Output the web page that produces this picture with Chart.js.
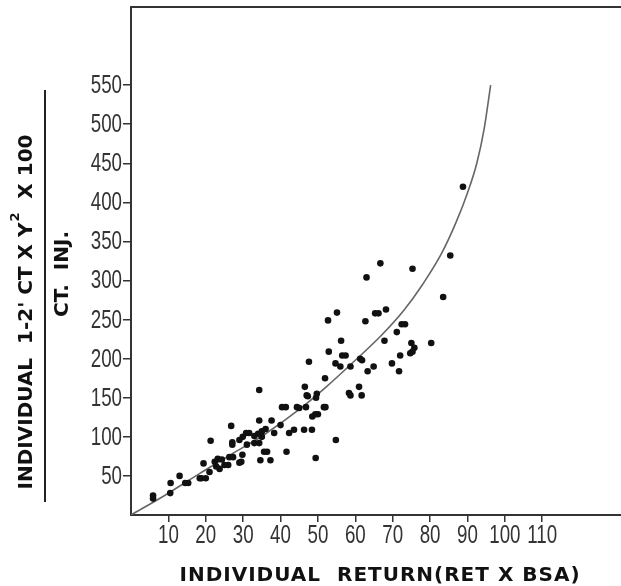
<!DOCTYPE html>
<html>
<head>
<meta charset="utf-8">
<script src="https://cdn.jsdelivr.net/npm/chart.js@4.4.0/dist/chart.umd.min.js"></script>
<style>
  body { margin: 0; background: #fff; }
  canvas { display: block; }
</style>
</head>
<body>
<canvas id="myChart" width="621" height="586"></canvas>
<script>
// individual points
const scatterX = [5.9, 5.9, 10.5, 10.6, 13, 14.5, 15.3, 18.4, 18.8, 19.4, 20, 21, 21.3, 22.4, 22.8, 23.2,
  23.7, 24.3, 25, 26, 26.3, 26.8, 27.3, 27.1, 27.1, 29, 29.5, 29.8, 29.9, 29, 30.8, 31.6, 31, 33,
  33, 34, 35, 36, 35, 34.3, 34.3, 34.3, 34.6, 35.6, 36.4, 37.3, 37.6, 38.3, 40.4, 41.4, 40, 41.6,
  42.3, 43.6, 44.4, 45, 46.3, 46.5, 46.8, 47.3, 48.4, 49.4, 49.7, 49.5, 47, 48.5, 49.3, 50, 51.6,
  51.9, 52, 54.8, 58.3, 58.7, 61, 61.7, 47.6, 52.9, 54.7, 56, 56.5, 57.4, 58.7, 61.3, 61.8, 63.3,
  64.9, 56.2, 52.7, 55.1, 62.7, 65.3, 66.2, 68.2, 67.8, 69.8, 71.1, 71.7, 72, 72.4, 73.3, 74.7,
  75, 75.8, 75.3, 80.3, 63, 66.7, 75.3, 83.5, 85.4, 88.8];
const scatterY = [25, 21, 28, 41, 50, 41, 41, 47, 47, 66, 47, 55, 95, 68, 62, 72,
  59, 71, 64, 64, 74, 114, 74, 93, 90, 67, 68, 77, 100, 96, 105, 105, 90, 92,
  101, 104, 107, 110, 100, 160, 121, 92, 70, 81, 81, 70, 121, 105, 138, 138, 115, 81,
  105, 109, 138, 137, 109, 164, 138, 152, 109, 73, 155, 150, 153, 126, 129, 129, 138,
  175, 138, 96, 156, 153, 164, 153, 196, 209, 194, 190, 204, 204, 190, 200, 198, 184,
  190, 223, 249, 259, 248, 258, 258, 263, 223, 194, 234, 184, 204, 244, 244, 207,
  220, 214, 209, 220, 304, 322, 315, 279, 332, 420];

// fitted curve, traced along its length
const curveX = [0, 9, 18, 27, 36, 45, 52, 60, 67, 73, 78, 83, 87, 90, 92.5, 94.5, 96.2];
const curveY = [0, 25, 52, 78, 104, 135, 163, 198, 230, 262, 295, 334, 375, 412, 450, 495, 550];

const xTicks = [10, 20, 30, 40, 50, 60, 70, 80, 90, 100, 110];
const yTicks = [50, 100, 150, 200, 250, 300, 350, 400, 450, 500, 550];

const axisColor = '#333';
const labelFont = '25px "Liberation Sans", Arial, sans-serif';
const titleFont = 'bold 20px "DejaVu Sans", sans-serif';

// draw a narrow (squeezed) label, like the stencil digits of the original
function narrowText(ctx, text, x, y, align) {
  const sx = 0.75;
  ctx.save();
  ctx.translate(x, y);
  ctx.scale(sx, 1);
  ctx.textAlign = align;
  ctx.fillText(text, 0, 0);
  ctx.restore();
}

const decorations = {
  id: 'decorations',
  afterDraw(chart) {
    const { ctx, chartArea, scales } = chart;
    ctx.save();
    // top frame line
    ctx.strokeStyle = axisColor;
    ctx.lineWidth = 2;
    ctx.beginPath();
    ctx.moveTo(chartArea.left, chartArea.top);
    ctx.lineTo(chart.width, chartArea.top);
    ctx.moveTo(chartArea.right, chartArea.bottom);
    ctx.lineTo(chart.width, chartArea.bottom);
    ctx.stroke();

    // tick labels
    ctx.fillStyle = '#333';
    ctx.font = labelFont;
    ctx.textBaseline = 'middle';
    xTicks.forEach(v => {
      narrowText(ctx, String(v), scales.x.getPixelForValue(v), chartArea.bottom + 21, 'center');
    });
    yTicks.forEach(v => {
      narrowText(ctx, String(v), chartArea.left - 9, scales.y.getPixelForValue(v) + 1, 'right');
    });

    ctx.fillStyle = '#111';
    ctx.textAlign = 'center';
    ctx.font = titleFont;
    ctx.letterSpacing = '1px';
    ctx.fillText('INDIVIDUAL  RETURN(RET X BSA)', 380, 576);
    ctx.letterSpacing = '0px';

    // y title, a fraction turned on its side
    ctx.translate(27, 312);
    ctx.rotate(-Math.PI / 2);
    const small = 'bold 13px "DejaVu Sans", sans-serif';
    const p1 = "INDIVIDUAL  1-2' CT X Y";
    const p2 = '  X 100';
    ctx.font = titleFont;
    const w1 = ctx.measureText(p1).width;
    const w3 = ctx.measureText(p2).width;
    ctx.font = small;
    const w2 = ctx.measureText('2').width + 1;
    const x = -(w1 + w2 + w3) / 2;
    ctx.textAlign = 'left';
    ctx.font = titleFont;
    ctx.fillText(p1, x, 0);
    ctx.font = small;
    ctx.fillText('2', x + w1 + 1, -11);
    ctx.font = titleFont;
    ctx.fillText(p2, x + w1 + w2, 0);

    // fraction bar
    ctx.strokeStyle = '#222';
    ctx.lineWidth = 2;
    ctx.beginPath();
    ctx.moveTo(-190, 18);
    ctx.lineTo(222, 18);
    ctx.stroke();

    ctx.textAlign = 'center';
    ctx.fillText('CT.  INJ.', 38, 36);
    ctx.restore();
  }
};

const ctx = document.getElementById('myChart').getContext('2d');
const chart = new Chart(ctx, {
  type: 'scatter',
  data: {
    datasets: [{
      label: 'points',
      data: scatterX.map((v, i) => ({ x: v, y: scatterY[i] })),
      backgroundColor: '#111',
      borderColor: '#111',
      pointRadius: 3.3,
      pointBorderWidth: 0
    }, {
      label: 'curve',
      type: 'line',
      data: curveX.map((v, i) => ({ x: v, y: curveY[i] })),
      borderColor: '#666',
      borderWidth: 1.6,
      pointRadius: 0,
      fill: false,
      cubicInterpolationMode: 'monotone'
    }]
  },
  plugins: [decorations],
  options: {
    responsive: false,
    animation: false,
    layout: { padding: { top: 7, right: 0, left: 0, bottom: 0 } },
    plugins: {
      legend: { display: false },
      tooltip: { enabled: false }
    },
    scales: {
      x: {
        type: 'linear',
        min: 0,
        max: 130,
        afterFit: (scale) => { scale.height = 71; },
        border: { color: axisColor, width: 2 },
        grid: {
          drawOnChartArea: false,
          tickLength: 7,
          lineWidth: 1.5,
          color: (c) => xTicks.includes(c.tick && c.tick.value) ? axisColor : 'rgba(0,0,0,0)'
        },
        ticks: { display: false, stepSize: 10, autoSkip: false }
      },
      y: {
        type: 'linear',
        min: 0,
        max: 650,
        afterFit: (scale) => { scale.width = 131; },
        border: { color: axisColor, width: 2 },
        grid: {
          drawOnChartArea: false,
          tickLength: 8,
          lineWidth: 1.5,
          color: (c) => yTicks.includes(c.tick && c.tick.value) ? axisColor : 'rgba(0,0,0,0)'
        },
        ticks: { display: false, stepSize: 50, autoSkip: false }
      }
    }
  }
});
</script>
</body>
</html>
